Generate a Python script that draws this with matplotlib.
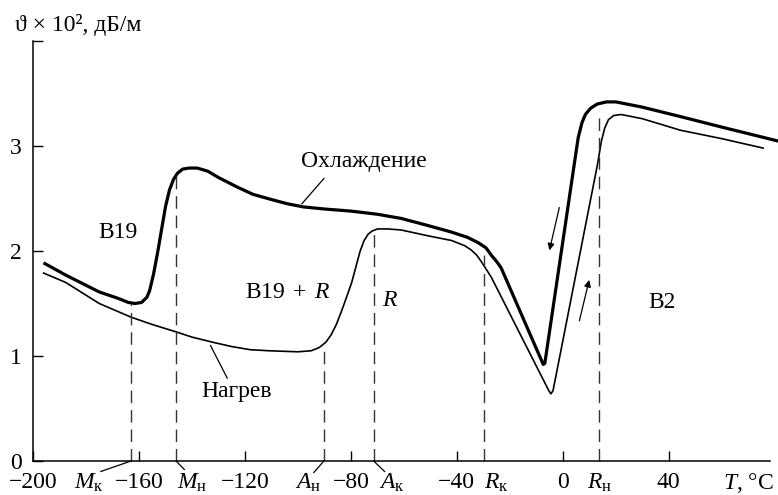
import matplotlib
matplotlib.use("Agg")
from matplotlib import pyplot as plt

plt.rcParams['font.family'] = ['Liberation Serif', 'DejaVu Serif']
plt.rcParams['mathtext.fontset'] = 'custom'
plt.rcParams['mathtext.rm'] = 'Liberation Serif'
plt.rcParams['mathtext.it'] = 'Liberation Serif:italic'

FS = 17

# Cooling curve (thick), T in C, attenuation x 10^2 dB/m
cool_T = [-195.5, -187.6, -175, -168, -164, -161.5, -159, -157, -156, -154.5, -153, -151.5,
          -150, -148.5, -147, -145.5, -143.5, -141, -138, -134, -130, -123, -117, -110,
          -104, -98, -90, -80, -70, -61, -52, -42, -36, -32, -29, -27, -25, -23.3,
          -7.4, -6.8, 5.8, 7.2, 8.5, 10.5, 13, 16.5, 20, 30, 44.4, 60, 80.8]
cool_V = [1.88, 1.77, 1.61, 1.55, 1.51, 1.50, 1.51, 1.56, 1.62, 1.78, 1.98, 2.20,
          2.42, 2.58, 2.68, 2.74, 2.78, 2.79, 2.79, 2.76, 2.70, 2.61, 2.54, 2.49,
          2.45, 2.42, 2.40, 2.38, 2.35, 2.31, 2.25, 2.18, 2.13, 2.08, 2.03, 1.96, 1.90, 1.84,
          0.92, 0.93, 3.08, 3.22, 3.30, 3.36, 3.40, 3.42, 3.42, 3.37, 3.28, 3.18, 3.05]

# Heating curve (thin)
heat_T = [-196, -187.6, -175, -163, -155, -146, -140, -132, -125, -118, -111, -100, -95, -92,
          -89.5, -87.5, -85.5, -83.5, -81.5, -79.7, -78, -76.5, -75, -73.5, -72, -70,
          -66, -61, -50, -42, -37, -34.6, -32.5, -30.8, -27, -5.3, -4.5, -3.7,
          13.2, 14.5, 15.8, 17.2, 19.2, 22, 30, 44.4, 60, 75.6]
heat_V = [1.79, 1.70, 1.50, 1.37, 1.30, 1.23, 1.18, 1.13, 1.09, 1.06, 1.05, 1.04, 1.05, 1.08,
          1.13, 1.20, 1.30, 1.43, 1.57, 1.70, 1.86, 2.00, 2.10, 2.16, 2.19, 2.21,
          2.21, 2.20, 2.14, 2.10, 2.05, 2.01, 1.96, 1.90, 1.75, 0.67, 0.64, 0.67,
          2.84, 3.04, 3.17, 3.25, 3.29, 3.30, 3.26, 3.15, 3.07, 2.98]

# transition temperatures and heights of their dashed markers
trans_T = [-163, -146, -90.2, -71.4, -29.7, 13.5]
trans_top = [1.50, 2.75, 1.08, 2.21, 1.96, 3.32]
trans_lbl = [r'$M_\mathrm{к}$', r'$M_\mathrm{н}$', r'$A_\mathrm{н}$',
             r'$A_\mathrm{к}$', r'$R_\mathrm{к}$', r'$R_\mathrm{н}$']
lbl_T = [-179, -140, -96, -64.7, -25, 13.9]
# leader ends below the axis (only the first four have them)
lead_T = [-174.4, -142.9, -94, -67.3]
lead_V = [-0.10, -0.08, -0.11, -0.10]

xticks = [-200, -160, -120, -80, -40, 0, 40]
yticks = [0, 1, 2, 3, 4]
ylabels = ['0', '1', '2', '3', '']

fig = plt.figure(figsize=(7.78, 4.95), dpi=100)
ax = fig.add_axes([33/778, 34/495, 737/778, 420/495])
ax.set_xlim(-199.3, 78.2)
ax.set_ylim(0, 4.0)

ax.plot(cool_T, cool_V, color='black', lw=2.3, clip_on=False, solid_joinstyle='round')
ax.plot(heat_T, heat_V, color='black', lw=1.2, clip_on=False, solid_joinstyle='round')

for t, top in zip(trans_T, trans_top):
    ax.plot([t, t], [0, top], color='#333333', lw=1.0, dashes=(9, 5), clip_on=False)

for t, lt, lv in zip(trans_T, lead_T, lead_V):
    ax.plot([t, lt], [0, lv], color='black', lw=0.9, clip_on=False)

base = -0.265
for lb, t in zip(trans_lbl, lbl_T):
    ax.text(t, base, lb, ha='center', va='baseline', fontsize=FS, clip_on=False)
ax.text(70, base, r'$T$, °C', ha='center', va='baseline', fontsize=FS, clip_on=False)

ax.set_xticks(xticks)
ax.set_xticklabels([f'{v:d}'.replace('-', '\u2212') for v in xticks])
ax.set_yticks(yticks)
ax.set_yticklabels(ylabels)
ax.tick_params(direction='in', length=7, width=1, labelsize=FS)
ax.tick_params(axis='x', pad=8)
ax.tick_params(axis='y', pad=8)
for s in ['top', 'right']:
    ax.spines[s].set_visible(False)
for s in ['left', 'bottom']:
    ax.spines[s].set_linewidth(1.1)

# region / curve labels
ax.text(-75.2, 2.85, 'Охлаждение', ha='center', va='center', fontsize=FS)
ax.plot([-90.2, -98.5], [2.69, 2.45], color='black', lw=0.9)
ax.text(-123, 0.66, 'Нагрев', ha='center', va='center', fontsize=FS)
ax.plot([-126.7, -133], [0.79, 1.10], color='black', lw=0.9)
ax.text(-168, 2.18, 'B19', ha='center', va='center', fontsize=FS)
ax.text(-103.8, 1.60, r'$\mathrm{B19}\;+\;R$', ha='center', va='center', fontsize=FS)
ax.text(-65.4, 1.53, 'R', ha='center', va='center', fontsize=FS, style='italic')
ax.text(37.6, 1.51, 'B2', ha='center', va='center', fontsize=FS)

# direction arrows
ax.annotate('', xy=(-5.3, 1.98), xytext=(-1.1, 2.44),
            arrowprops=dict(arrowstyle='-|>', color='black', lw=0.9, mutation_scale=10))
ax.annotate('', xy=(10.2, 1.75), xytext=(6.0, 1.31),
            arrowprops=dict(arrowstyle='-|>', color='black', lw=0.9, mutation_scale=10))

fig.text(15/778, 1 - 25/495, 'ϑ × 10², дБ/м', ha='left', va='center', fontsize=FS)

plt.savefig('out.png', dpi=100)
